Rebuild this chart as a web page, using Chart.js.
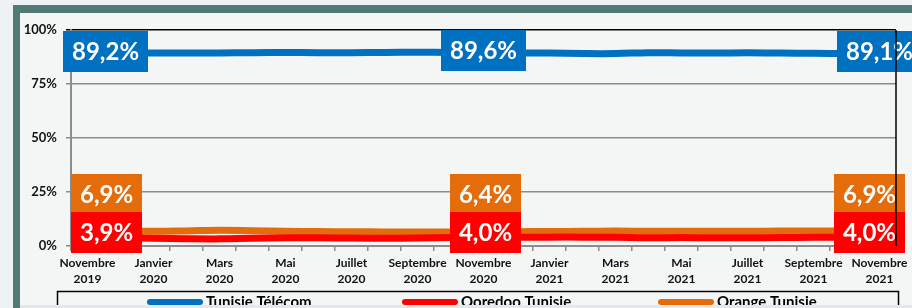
<!DOCTYPE html>
<html>
<head>
<meta charset="utf-8">
<script src="https://cdn.jsdelivr.net/npm/chart.js@4"></script>
<style>
html, body { margin: 0; padding: 0; background: #eef1f1; }
#wrap { width: 912px; height: 308px; }
</style>
</head>
<body>
<div id="wrap"><canvas id="myChart" width="912" height="308"></canvas></div>
<script>
/*global Chart*/

// months, Nov 2019 -> Nov 2021
var months = [
    "Novembre 2019", "Décembre 2019", "Janvier 2020", "Février 2020", "Mars 2020",
    "Avril 2020", "Mai 2020", "Juin 2020", "Juillet 2020", "Août 2020",
    "Septembre 2020", "Octobre 2020", "Novembre 2020", "Décembre 2020", "Janvier 2021",
    "Février 2021", "Mars 2021", "Avril 2021", "Mai 2021", "Juin 2021",
    "Juillet 2021", "Août 2021", "Septembre 2021", "Octobre 2021", "Novembre 2021"
];
var tunisieTelecom = [89.2, 89.3, 89.4, 89.3, 89.4, 89.5, 89.6, 89.5, 89.5, 89.6, 89.7, 89.6, 89.6,
                      89.4, 89.3, 89.1, 89.1, 89.5, 89.4, 89.3, 89.5, 89.3, 89.2, 89.1, 89.1];
var ooredoo = [3.9, 3.7, 3.6, 3.4, 3.3, 3.6, 3.8, 3.8, 3.7, 3.6, 3.7, 3.9, 4.0,
               4.0, 4.1, 4.1, 4.0, 3.8, 3.9, 3.8, 3.8, 3.9, 4.0, 4.0, 4.0];
var orange = [6.9, 6.9, 6.8, 7.0, 7.3, 7.1, 6.8, 6.7, 6.6, 6.5, 6.5, 6.5, 6.4,
              6.6, 6.7, 6.8, 6.9, 6.8, 6.8, 6.8, 6.8, 6.9, 6.9, 6.9, 6.9];
var seriesNames = ["Tunisie Télécom", "Ooredoo Tunisie", "Orange Tunisie"];
var seriesColors = ["#0070c0", "#ff0000", "#e46c0a"];
var yTicks = [0, 25, 50, 75, 100];
var labelledPoints = [0, 12, 24];

var FONT = "Lato, 'Open Sans', sans-serif";
var GRID = "#8c8c8c";

var framePlugin = {
    id: "frame",
    beforeDraw: function(chart){
        var c = chart.ctx;
        c.save();
        c.fillStyle = "#eff2f2";
        c.fillRect(0, 0, chart.width, chart.height);
        c.fillStyle = "#f4f6f6";
        c.fillRect(20, 13, chart.width, chart.height);
        c.fillStyle = "#527a75";
        c.fillRect(13, 5, chart.width, 8);
        c.fillRect(13, 5, 7, chart.height);
        c.restore();
    },
    afterDraw: function(chart){
        var c = chart.ctx;
        var a = chart.chartArea;
        c.save();
        // right border of the plot
        c.strokeStyle = "#000";
        c.lineWidth = 1.5;
        c.beginPath();
        c.moveTo(a.right, a.top);
        c.lineTo(a.right, a.bottom);
        c.stroke();

        // legend box
        c.lineWidth = 1.5;
        c.strokeRect(57.5, 291.5, 841, 30);
        var starts = [147, 402, 658];
        c.font = "bold 15px " + FONT;
        c.textBaseline = "middle";
        c.textAlign = "left";
        chart.data.datasets.forEach(function(ds, i){
            c.strokeStyle = ds.borderColor;
            c.lineWidth = 6;
            c.lineCap = "round";
            c.beginPath();
            c.moveTo(starts[i] + 3, 302);
            c.lineTo(starts[i] + 53, 302);
            c.stroke();
            c.fillStyle = "#000";
            c.fillText(ds.label, starts[i] + 59, 302);
        });

        // bottom strip
        c.fillStyle = "#e4e8e8";
        c.fillRect(20, 305, chart.width, 4);
        c.restore();
    }
};

var valueBoxes = {
    id: "valueBoxes",
    afterDatasetsDraw: function(chart){
        var c = chart.ctx;
        c.save();
        c.font = "bold 24px " + FONT;
        c.textAlign = "center";
        c.textBaseline = "middle";
        var h = 41;
        // draw order: blue, orange, red (red on top)
        [0, 2, 1].forEach(function(di){
            var ds = chart.data.datasets[di];
            var meta = chart.getDatasetMeta(di);
            labelledPoints.forEach(function(idx){
                var p = meta.data[idx];
                var txt = ds.data[idx].toFixed(1).replace(".", ",") + "%";
                var w = c.measureText(txt).width + 18;
                var cx = p.x, cy;
                if (di === 0) {
                    cx = Math.max(cx, 63 + w / 2);
                    cy = p.y - 2;
                } else {
                    var redY = chart.getDatasetMeta(1).data[idx].y;
                    var redCy = redY - 5;
                    cx = Math.max(cx + 2, 71 + w / 2);
                    cx = Math.min(cx, 905 - w / 2);
                    cy = di === 1 ? redCy : redCy - h + 3;
                }
                c.fillStyle = ds.borderColor;
                c.fillRect(Math.round(cx - w / 2), Math.round(cy - h / 2), Math.round(w), h);
                c.fillStyle = "#fff";
                c.fillText(txt, cx, cy + 1);
            });
        });
        c.restore();
    }
};

var ctx = document.getElementById("myChart");
var chart = new Chart(ctx, {
    type: "line",
    data: {
        labels: months,
        datasets: [
            { label: seriesNames[0], data: tunisieTelecom, borderColor: seriesColors[0] },
            { label: seriesNames[1], data: ooredoo, borderColor: seriesColors[1] },
            { label: seriesNames[2], data: orange, borderColor: seriesColors[2] }
        ]
    },
    options: {
        responsive: false,
        animation: false,
        layout: { padding: { top: 30, right: 16, bottom: 0, left: 0 } },
        elements: {
            line: { borderWidth: 7, tension: 0.4, fill: false, borderCapStyle: "butt" },
            point: { radius: 0 }
        },
        plugins: {
            legend: { display: false },
            tooltip: { enabled: false }
        },
        scales: {
            x: {
                offset: true,
                afterFit: function(scale){ scale.height = 62; },
                grid: { offset: true, drawOnChartArea: false, drawTicks: true, tickLength: 5, color: GRID, lineWidth: 1.5 },
                border: { display: true, color: GRID, width: 2 },
                ticks: {
                    autoSkip: false,
                    maxRotation: 0,
                    padding: 4,
                    color: "#111",
                    font: { family: FONT, size: 12, weight: "bold", lineHeight: 1.35 },
                    callback: function(v, i){
                        if (i % 2 !== 0) return "";
                        return months[i].split(" ");
                    }
                }
            },
            y: {
                min: 0,
                max: 100,
                afterFit: function(scale){ scale.width = 71; },
                afterBuildTicks: function(scale){
                    scale.ticks = yTicks.map(function(v){ return { value: v }; });
                },
                grid: {
                    drawTicks: true,
                    tickLength: 5,
                    lineWidth: 1.5,
                    color: function(c){ return c.tick && c.tick.value === 100 ? "#000" : GRID; }
                },
                border: { display: true, color: GRID, width: 2 },
                ticks: {
                    padding: 9,
                    color: "#111",
                    font: { family: FONT, size: 13, weight: "bold" },
                    callback: function(v){ return v + "%"; }
                }
            }
        }
    },
    plugins: [framePlugin, valueBoxes]
});
</script>
</body>
</html>
